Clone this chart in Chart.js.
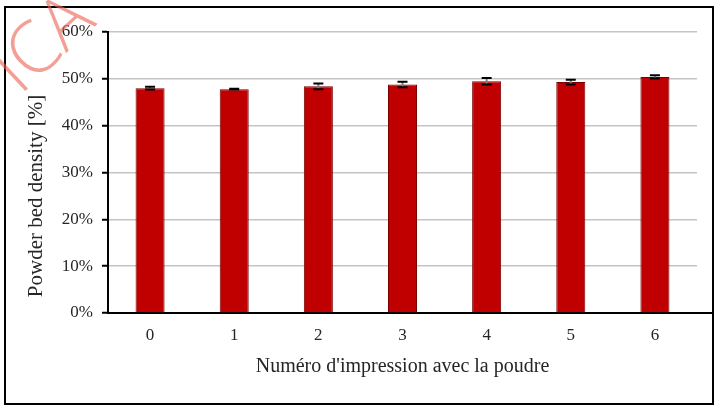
<!DOCTYPE html>
<html>
<head>
<meta charset="utf-8">
<script src="https://cdn.jsdelivr.net/npm/chart.js@4.4.1/dist/chart.umd.min.js"></script>
<style>
  html, body { margin: 0; padding: 0; background: #fff; }
  #wrap { width: 718px; height: 411px; }
</style>
</head>
<body>
<div id="wrap"><canvas id="c" width="718" height="411"></canvas></div>
<script>
// Print number (reuse count of the powder)
const categories = ['0', '1', '2', '3', '4', '5', '6'];
// Mean powder bed density, %
const density = [48.0, 47.8, 48.4, 48.8, 49.5, 49.3, 50.4];
// Standard deviation, %
const densityError = [0.3, 0.1, 0.6, 0.6, 0.7, 0.5, 0.35];
// Y axis ticks, %
const yTicks = [0, 10, 20, 30, 40, 50, 60];

const serif = '"Liberation Serif", "DejaVu Serif", serif';
const yTitle = 'Powder bed density [%]';

// White page with a black frame, the y title and the faint stamp in the corner
const framePlugin = {
  id: 'frame',
  beforeDraw(chart) {
    const ctx = chart.ctx;
    ctx.save();
    ctx.fillStyle = '#ffffff';
    ctx.fillRect(0, 0, chart.width, chart.height);
    ctx.strokeStyle = '#000000';
    ctx.lineWidth = 2;
    ctx.strokeRect(5, 7, 708, 397);
    ctx.restore();
  },
  afterDraw(chart) {
    const ctx = chart.ctx;
    // axis line runs a little past the plot area
    const y0 = chart.scales.y.getPixelForValue(0);
    ctx.save();
    ctx.strokeStyle = '#000000';
    ctx.lineWidth = 2;
    ctx.beginPath();
    ctx.moveTo(chart.chartArea.right, y0);
    ctx.lineTo(712, y0);
    ctx.stroke();
    ctx.restore();

    // vertical axis title
    ctx.save();
    ctx.translate(36, 196);
    ctx.rotate(-Math.PI / 2);
    ctx.fillStyle = '#262626';
    ctx.font = '21px ' + serif;
    ctx.textAlign = 'center';
    ctx.textBaseline = 'middle';
    ctx.fillText(yTitle, 0, 0);
    ctx.restore();

    // stamp
    ctx.save();
    ctx.translate(20, 96);
    ctx.rotate(-43 * Math.PI / 180);
    ctx.fillStyle = 'rgba(236, 100, 85, 0.62)';
    ctx.font = '300 72px "Open Sans", Lato, sans-serif';
    ctx.textBaseline = 'alphabetic';
    ctx.fillText('ICA', 0, 0);
    ctx.restore();
  }
};

// Error bars (± standard deviation) on top of each bar
const errorBarPlugin = {
  id: 'errorBars',
  afterDatasetsDraw(chart) {
    const ctx = chart.ctx;
    const yScale = chart.scales.y;
    const meta = chart.getDatasetMeta(0);
    ctx.save();
    meta.data.forEach((bar, i) => {
      const v = density[i];
      const e = densityError[i];
      const yHi = yScale.getPixelForValue(v + e);
      const yLo = yScale.getPixelForValue(v - e);
      const x = bar.x;
      ctx.strokeStyle = '#7f7f7f';
      ctx.lineWidth = 2;
      ctx.beginPath();
      ctx.moveTo(x, yHi);
      ctx.lineTo(x, yLo);
      ctx.stroke();
      ctx.strokeStyle = '#000000';
      ctx.lineWidth = 2;
      ctx.beginPath();
      ctx.moveTo(x - 5, yHi);
      ctx.lineTo(x + 5, yHi);
      ctx.moveTo(x - 5, yLo);
      ctx.lineTo(x + 5, yLo);
      ctx.stroke();
    });
    ctx.restore();
  }
};

new Chart(document.getElementById('c'), {
  type: 'bar',
  data: {
    labels: categories,
    datasets: [{
      data: density,
      backgroundColor: '#c00000',
      borderColor: '#7a0000',
      borderWidth: 1,
      barPercentage: 0.345,
      categoryPercentage: 1.0
    }]
  },
  options: {
    responsive: false,
    animation: false,
    devicePixelRatio: 1,
    layout: { padding: { left: 0, right: 21, top: 32, bottom: 0 } },
    plugins: {
      legend: { display: false },
      tooltip: { enabled: false }
    },
    scales: {
      x: {
        afterFit(scale) { scale.height = 98; },
        grid: { display: false, drawTicks: false },
        border: { display: true, color: '#000000', width: 2 },
        ticks: {
          color: '#262626',
          padding: 12,
          font: { family: serif, size: 17 }
        },
        title: {
          display: true,
          text: "Numéro d'impression avec la poudre",
          color: '#262626',
          font: { family: serif, size: 20 },
          padding: { top: 0, bottom: 32 }
        }
      },
      y: {
        min: 0,
        max: 60,
        afterFit(scale) { scale.width = 108; },
        afterBuildTicks(scale) { scale.ticks = yTicks.map(v => ({ value: v })); },
        grid: {
          color: '#c4c4c4',
          lineWidth: 1.5,
          drawTicks: true,
          tickLength: 6,
          tickColor: '#000000',
          tickWidth: 2
        },
        border: { display: true, color: '#000000', width: 2 },
        ticks: {
          color: '#262626',
          padding: 9,
          font: { family: serif, size: 17 },
          callback: v => v + '%'
        },
        title: { display: false }
      }
    }
  },
  plugins: [framePlugin, errorBarPlugin]
});
</script>
</body>
</html>
